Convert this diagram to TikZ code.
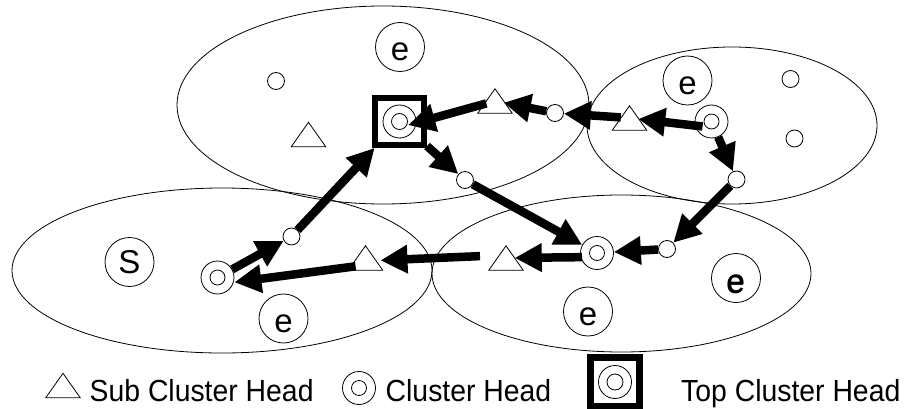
\documentclass[tikz,border=0pt]{standalone}
\usepackage{fontspec}
\setmainfont{Liberation Sans}
\newfontfamily\legendfont[FakeStretch=0.93]{Liberation Sans}
\usetikzlibrary{arrows.meta}

\tikzset{
  region/.style={draw, line width=0.8pt},
  sensor/.style={circle, draw, line width=0.8pt, minimum size=17pt, inner sep=0pt},
  event/.style={circle, draw, line width=0.8pt, minimum size=49pt, inner sep=0pt,
    font=\fontsize{33}{33}\selectfont, text height=28pt, text depth=0pt},
  source/.style={event, text height=22pt},
  chead/.style={circle, draw, line width=0.8pt, minimum size=33pt, inner sep=0pt,
    path picture={\draw[line width=0.8pt] (path picture bounding box.center) circle (7.5pt);}},
  tophead/.style={rectangle, draw, line width=6pt, minimum width=49pt, minimum height=47pt,
    inner sep=0pt,
    path picture={\draw[line width=0.8pt] (path picture bounding box.center) circle (16.5pt) circle (8pt);}},
  tri/.style={rectangle, minimum width=17pt, minimum height=24pt, inner sep=0pt},
  hop/.style={line width=8.5pt, -{Triangle[length=27pt, width=27pt]}},
  legendtext/.style={font=\legendfont\fontsize{30.5}{36}\selectfont, anchor=base west, inner sep=0pt},
}
% triangle outline over a tri node (sub cluster head)
\newcommand\drawtri[1]{\draw[line width=0.8pt, line join=miter]
  ([xshift=-8.5pt]#1.south west) -- (#1.north) -- ([xshift=8.5pt]#1.south east) -- cycle;}

\begin{document}
\begin{tikzpicture}[x=1pt, y=-1pt]
\useasboundingbox (0,0) rectangle (909,409);

% clusters
\draw[region] (383,105) ellipse [x radius=206pt, y radius=99pt];
\draw[region] (732,125.5) ellipse [x radius=145pt, y radius=78.5pt];
\draw[region] (222,270.5) ellipse [x radius=210pt, y radius=82.5pt];
\draw[region] (621.5,273.5) ellipse [x radius=189.5pt, y radius=78.5pt];

% upper middle cluster
\node[event] (eT) at (400,47) {e};
\node[sensor] (s1) at (276,81) {};
\node[tri] (tT1) at (308.5,134.5) {};
\node[tophead] (top) at (399.5,121.5) {};
\node[tri] (tT2) at (495,101) {};
\node[sensor] (s2) at (555,113) {};
\node[sensor] (s3) at (465,180) {};

% upper right cluster
\node[event] (eR) at (687.5,80.5) {e};
\node[sensor] (s4) at (790.5,79) {};
\node[sensor] (s5) at (794.5,138.5) {};
\node[chead] (cR) at (711.5,121.5) {};
\node[tri] (tR) at (629.5,118) {};
\node[sensor] (s6) at (736.5,179.5) {};

% lower left cluster
\node[source] (src) at (129.5,262) {S};
\node[chead] (cL) at (217.5,277.5) {};
\node[sensor] (s7) at (291.5,236.5) {};
\node[event] (eL) at (283.5,318.5) {e};
\node[tri] (tL) at (365.5,258) {};

% lower right cluster
\node[chead] (cB) at (597,253) {};
\node[sensor] (s8) at (667,249) {};
\node[tri] (tB) at (506,258) {};
\node[event] (eB1) at (588,311.5) {e};
\node[event] (eB2) at (736,278) {e\llap{\raisebox{-1.8pt}{e\kern0.6pt}}};

\foreach \t in {tT1,tT2,tR,tL,tB} {\drawtri{\t}}

% routing path
\draw[hop] (cL) -- (s7);
\draw[hop] (s7) -- (top);
\draw[hop] (top) -- (s3);
\draw[hop] (s3) -- (cB);
\draw[hop, shorten <=15pt] ([yshift=-4pt]cB.center) -- (tB);
\draw[hop, shorten <=26pt, shorten >=15pt] ([yshift=3pt]tB.center) -- ([yshift=-3pt]tL.center);
\draw[hop, shorten <=10pt, shorten >=17pt] ([yshift=-7pt]tL.center) -- ([yshift=-7pt]cL.center);
\draw[hop] (s8) -- (cB);
\draw[hop] (s6) -- (s8);
\draw[hop] (cR) -- (s6);
\draw[hop, shorten <=9pt] ([yshift=-6pt]cR.center) -- (tR);
\draw[hop] (tR) -- (s2);
\draw[hop] (s2) -- (tT2);
\draw[hop, shorten >=9pt] (tT2) -- ([yshift=-6pt]top.center);

% legend
\node[tri] (legT) at (63,385.5) {};
\drawtri{legT}
\node[legendtext] (legTtext) at (89.5,401) {Sub Cluster Head};
\node[chead, minimum size=33pt] (legC) at (359,388) {};
\node[legendtext] (legCtext) at (385.5,401) {Cluster Head};
\node[tophead, line width=7pt, minimum height=49pt] (legTop) at (615,382) {};
\node[legendtext] (legToptext) at (681,401) {Top Cluster Head};
\end{tikzpicture}
\end{document}
